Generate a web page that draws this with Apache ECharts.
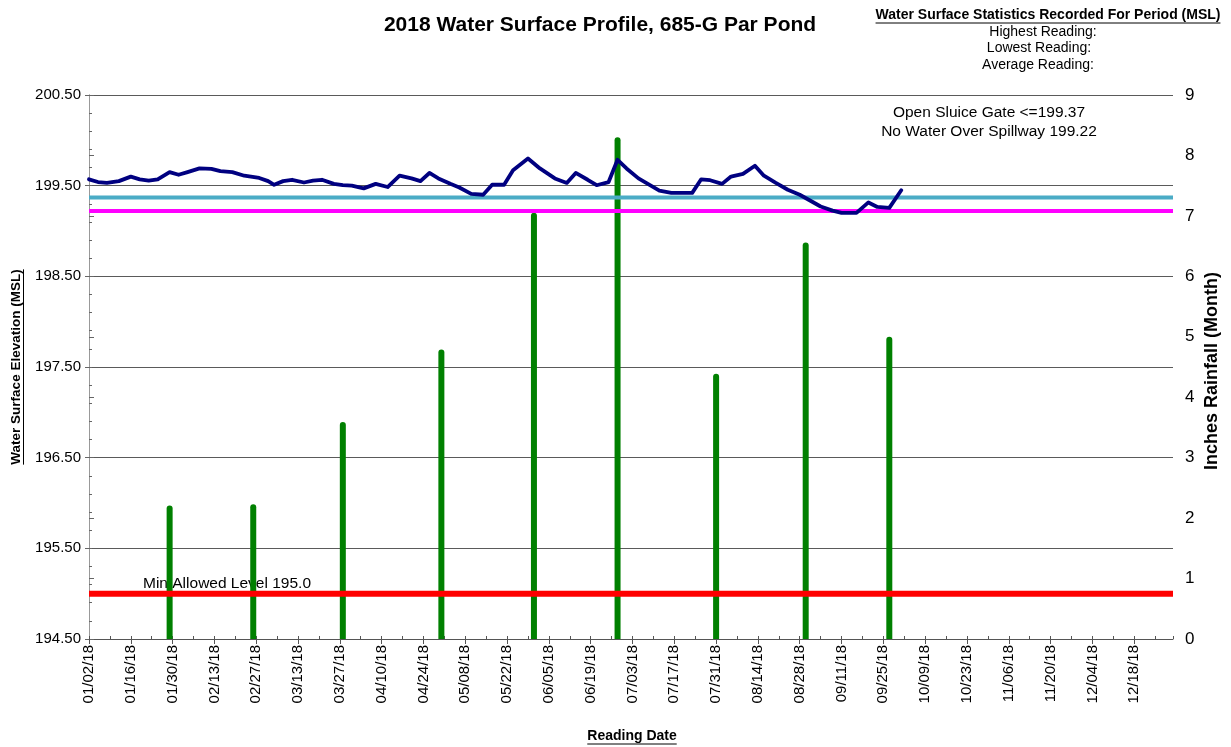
<!DOCTYPE html>
<html>
<head>
<meta charset="utf-8">
<title>2018 Water Surface Profile, 685-G Par Pond</title>
<script src="https://cdn.jsdelivr.net/npm/echarts@6/dist/echarts.min.js"></script>
<style>
  html, body { margin: 0; padding: 0; background: #fff; }
  #chart { width: 1231px; height: 747px; }
</style>
</head>
<body>
<div id="chart"></div>
<script>
// water level readings (MSL)
const levelDates = [
  '2018-01-02', '2018-01-05', '2018-01-08', '2018-01-12', '2018-01-16', '2018-01-19', '2018-01-22',
  '2018-01-25', '2018-01-29', '2018-02-01', '2018-02-04', '2018-02-08', '2018-02-12', '2018-02-15',
  '2018-02-19', '2018-02-23', '2018-02-28', '2018-03-03', '2018-03-05', '2018-03-08', '2018-03-11',
  '2018-03-15', '2018-03-18', '2018-03-21', '2018-03-25', '2018-03-28', '2018-03-31', '2018-04-04',
  '2018-04-08', '2018-04-12', '2018-04-16', '2018-04-20', '2018-04-23', '2018-04-26', '2018-04-29',
  '2018-05-03', '2018-05-06', '2018-05-10', '2018-05-14', '2018-05-17', '2018-05-21', '2018-05-24',
  '2018-05-29', '2018-06-02', '2018-06-07', '2018-06-11', '2018-06-14', '2018-06-18', '2018-06-21',
  '2018-06-25', '2018-06-28', '2018-07-01', '2018-07-05', '2018-07-12', '2018-07-16', '2018-07-19',
  '2018-07-23', '2018-07-26', '2018-07-29', '2018-08-02', '2018-08-05', '2018-08-09', '2018-08-13',
  '2018-08-16', '2018-08-20', '2018-08-24', '2018-08-28', '2018-08-31', '2018-09-04', '2018-09-08',
  '2018-09-11', '2018-09-16', '2018-09-20', '2018-09-23', '2018-09-27', '2018-10-01'
];
const levelValues = [
  199.57, 199.54, 199.53, 199.55, 199.60, 199.57, 199.555,
  199.57, 199.65, 199.62, 199.65, 199.69, 199.685, 199.66,
  199.65, 199.61, 199.585, 199.55, 199.51, 199.55, 199.565,
  199.535, 199.555, 199.565, 199.52, 199.505, 199.50, 199.47,
  199.52, 199.485, 199.61, 199.58, 199.55, 199.64, 199.58,
  199.52, 199.48, 199.41, 199.40, 199.51, 199.51, 199.67,
  199.80, 199.69, 199.58, 199.53, 199.64, 199.565, 199.505,
  199.54, 199.785, 199.69, 199.58, 199.445, 199.42, 199.42,
  199.42, 199.57, 199.56, 199.52, 199.60, 199.63, 199.72,
  199.61, 199.53, 199.455, 199.40, 199.345, 199.27, 199.225,
  199.20, 199.20, 199.315, 199.265, 199.255, 199.45
];

// monthly rainfall (inches)
const rainDates = ['2018-01-29', '2018-02-26', '2018-03-28', '2018-04-30', '2018-05-31',
                   '2018-06-28', '2018-07-31', '2018-08-30', '2018-09-27'];
const rainValues = [2.21, 2.23, 3.59, 4.79, 7.05, 8.30, 4.39, 6.56, 5.00];

// reference levels
const sluiceLevel = 199.37;
const spillwayLevel = 199.22;
const minLevel = 195.0;

const startDate = '2018-01-02';
const endDate = '2018-12-31';

const FONT = '"Liberation Sans", Arial, sans-serif';
const DAY = 86400000;

function toUTC(s) {
  const p = s.split('-').map(Number);
  return Date.UTC(p[0], p[1] - 1, p[2]);
}
const t0 = toUTC(startDate);
function dayIndex(s) { return Math.round((toUTC(s) - t0) / DAY); }
const xMax = dayIndex(endDate);

function fmtDay(d) {
  const dt = new Date(t0 + d * DAY);
  const mm = String(dt.getUTCMonth() + 1).padStart(2, '0');
  const dd = String(dt.getUTCDate()).padStart(2, '0');
  const yy = String(dt.getUTCFullYear()).slice(2);
  return mm + '/' + dd + '/' + yy;
}

const levelData = levelDates.map((d, i) => [dayIndex(d), levelValues[i]]);
const rainData = rainDates.map((d, i) => [dayIndex(d), rainValues[i]]);
const flat = v => [[0, v], [xMax, v]];

// text width for the underlines
const mctx = document.createElement('canvas').getContext('2d');
function textW(font, s) { mctx.font = font; return mctx.measureText(s).width; }

const chart = echarts.init(document.getElementById('chart'), null, {renderer: 'canvas'});

const statsTitle = 'Water Surface Statistics Recorded For Period (MSL)';
const leftTitle = 'Water Surface Elevation (MSL)';
const xTitle = 'Reading Date';
const wStats = textW('bold 14px ' + FONT, statsTitle);
const wLeft = textW('bold 13.5px ' + FONT, leftTitle);
const wX = textW('bold 14px ' + FONT, xTitle);

function txt(x, y, s, size, bold, extra) {
  return Object.assign({
    type: 'text', x: x, y: y, silent: true,
    style: {
      text: s, fill: '#000', font: (bold ? 'bold ' : '') + size + 'px ' + FONT,
      textAlign: 'center', textVerticalAlign: 'middle'
    }
  }, extra || {});
}
function uline(x1, y1, x2, y2) {
  return {type: 'line', silent: true, shape: {x1: x1, y1: y1, x2: x2, y2: y2},
          style: {stroke: '#000', lineWidth: 1}};
}

const option = {
  animation: false,
  backgroundColor: '#fff',
  grid: {left: 89, right: 58, top: 95, bottom: 108, containLabel: false},
  xAxis: [{
    type: 'value', min: 0, max: xMax, interval: 14,
    axisLine: {lineStyle: {color: '#555', width: 1}},
    axisTick: {length: 5, lineStyle: {color: '#555'}},
    axisLabel: {
      rotate: 90, margin: 6, fontSize: 15, fontFamily: FONT, color: '#000',
      showMaxLabel: false, formatter: v => fmtDay(v)
    },
    splitLine: {show: false}
  }, {
    type: 'value', min: 0, max: xMax, interval: 7, position: 'bottom',
    axisLine: {show: false},
    axisTick: {inside: true, length: 3, lineStyle: {color: '#555'}},
    axisLabel: {show: false},
    splitLine: {show: false}
  }],
  yAxis: [{
    type: 'value', position: 'left', min: 194.5, max: 200.5, interval: 1,
    axisLine: {show: true, lineStyle: {color: '#999'}},
    axisTick: {show: true, length: 4, lineStyle: {color: '#666'}},
    axisLabel: {margin: 8, fontSize: 15, fontFamily: FONT, color: '#000', formatter: v => v.toFixed(2)},
    splitLine: {show: true, lineStyle: {color: '#5a5a5a', width: 1}}
  }, {
    type: 'value', position: 'right', min: 0, max: 9, interval: 1,
    axisLine: {show: true, lineStyle: {color: '#999'}},
    axisTick: {show: true, length: 5, lineStyle: {color: '#666'}},
    axisLabel: {margin: 12, fontSize: 17, fontFamily: FONT, color: '#000'},
    splitLine: {show: false}
  }, {
    type: 'value', position: 'left', min: 0, max: 6, interval: 0.2,
    axisLine: {show: false},
    axisTick: {show: true, inside: true, length: 3, lineStyle: {color: '#666'}},
    axisLabel: {show: false},
    splitLine: {show: false}
  }],
  series: [{
    name: 'Rainfall', type: 'bar', xAxisIndex: 0, yAxisIndex: 1,
    data: rainData, barWidth: 6,
    itemStyle: {color: '#008000', borderRadius: [3, 3, 0, 0]}
  }, {
    name: 'Open Sluice Gate', type: 'line', yAxisIndex: 0, data: flat(sluiceLevel),
    showSymbol: false, lineStyle: {color: '#4BACC6', width: 4}
  }, {
    name: 'Spillway', type: 'line', yAxisIndex: 0, data: flat(spillwayLevel),
    showSymbol: false, lineStyle: {color: '#FF00FF', width: 4}
  }, {
    name: 'Min Allowed', type: 'line', yAxisIndex: 0, data: flat(minLevel),
    showSymbol: false, lineStyle: {color: '#FF0000', width: 6}
  }, {
    name: 'Water Level', type: 'line', yAxisIndex: 0, data: levelData,
    showSymbol: false, lineStyle: {color: '#000080', width: 3.8, join: 'round', cap: 'round'}
  }],
  graphic: [
    txt(600, 25, '2018 Water Surface Profile, 685-G Par Pond', 21, true),
    txt(1048, 15, statsTitle, 14, true),
    uline(1048 - wStats / 2, 23, 1048 + wStats / 2, 23),
    txt(1043, 32, 'Highest Reading:', 14, false),
    txt(1039, 48, 'Lowest Reading:', 14, false),
    txt(1038, 65, 'Average Reading:', 14, false),
    txt(989, 113, 'Open Sluice Gate <=199.37', 15.5, false),
    txt(989, 132, 'No Water Over Spillway 199.22', 15.5, false),
    txt(143, 584, 'Min Allowed Level 195.0', 15.5, false, {style: {
      text: 'Min Allowed Level 195.0', fill: '#000', font: '15.5px ' + FONT,
      textAlign: 'left', textVerticalAlign: 'middle'}}),
    txt(16, 367, leftTitle, 13.5, true, {rotation: Math.PI / 2}),
    uline(23.5, 367 - wLeft / 2, 23.5, 367 + wLeft / 2),
    txt(1212, 371, 'Inches Rainfall (Month)', 18, true, {rotation: Math.PI / 2}),
    txt(632, 736, xTitle, 14, true),
    uline(632 - wX / 2, 744, 632 + wX / 2, 744)
  ]
};

chart.setOption(option);
</script>
</body>
</html>
